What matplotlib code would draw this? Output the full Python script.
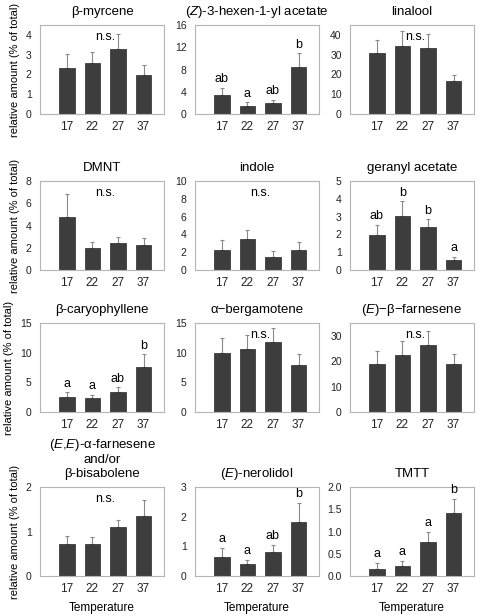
import numpy as np
import matplotlib
matplotlib.use("Agg")
import matplotlib.pyplot as plt

plt.rcParams['font.family'] = ['Liberation Sans', 'DejaVu Sans']
plt.rcParams['mathtext.fontset'] = 'custom'
plt.rcParams['mathtext.rm'] = 'Liberation Sans'
plt.rcParams['mathtext.it'] = 'Liberation Sans:italic'

temps = ["17", "22", "27", "37"]

titles = ["β-myrcene", "($\\mathit{Z}$)-3-hexen-1-yl acetate", "linalool",
          "DMNT", "indole", "geranyl acetate",
          "β-caryophyllene", "α\u2212bergamotene", "($\\mathit{E}$)\u2212β\u2212farnesene",
          "($\\mathit{E}$,$\\mathit{E}$)-α-farnesene\nand/or\nβ-bisabolene",
          "($\\mathit{E}$)-nerolidol", "TMTT"]

means = [[2.35, 2.6, 3.3, 1.95],
         [3.4, 1.4, 2.0, 8.5],
         [30.7, 34.6, 33.6, 16.9],
         [4.8, 1.95, 2.4, 2.25],
         [2.25, 3.45, 1.5, 2.2],
         [1.97, 3.06, 2.4, 0.58],
         [2.45, 2.3, 3.45, 7.6],
         [10.0, 10.6, 11.8, 7.9],
         [18.8, 22.6, 26.5, 18.7],
         [0.71, 0.73, 1.1, 1.34],
         [0.63, 0.39, 0.82, 1.81],
         [0.16, 0.22, 0.77, 1.42]]

errs = [[0.7, 0.55, 0.75, 0.55],
        [1.3, 0.7, 0.6, 2.4],
        [6.7, 7.6, 6.9, 3.0],
        [2.05, 0.55, 0.55, 0.6],
        [1.1, 1.05, 0.65, 0.9],
        [0.58, 0.8, 0.44, 0.17],
        [0.85, 0.6, 0.7, 2.1],
        [2.5, 2.4, 2.35, 1.8],
        [5.2, 5.5, 5.2, 4.0],
        [0.2, 0.14, 0.16, 0.37],
        [0.32, 0.15, 0.24, 0.65],
        [0.14, 0.12, 0.22, 0.31]]

letters = [None, ["ab", "a", "ab", "b"], None,
           None, None, ["ab", "b", "b", "a"],
           ["a", "a", "ab", "b"], None, None,
           None, ["a", "a", "ab", "b"], ["a", "a", "a", "b"]]

ymax = [4.5, 15, 45, 8, 10, 5, 15, 15, 35, 2, 3, 2]
ysteps = [1, 4, 10, 2, 2, 1, 5, 5, 10, 1, 1, 0.5]

W, H = 480, 616
fig = plt.figure(figsize=(W / 100, H / 100), dpi=100)

lefts = [40, 195, 350]
tops = [25, 181, 323, 487]
aw, ah = 124, 89

x = np.arange(4)
for i in range(12):
    r, c = divmod(i, 3)
    ax = fig.add_axes([lefts[c] / W, 1 - (tops[r] + ah) / H, aw / W, ah / H])
    lower = np.zeros(4)
    ax.bar(x, means[i], width=0.6, color='#3d3d3d', edgecolor='#2a2a2a', lw=0.5, zorder=2)
    ax.errorbar(x, means[i], yerr=[lower, errs[i]], fmt='none', ecolor='#8a8a8a',
                elinewidth=0.8, capsize=1.5, capthick=0.8, zorder=1)
    ax.set_xlim(-1.05, 3.8)
    ax.set_ylim(0, ymax[i])
    step = ysteps[i]
    ticks = np.arange(0, ymax[i] + step / 2, step)
    ax.set_yticks(ticks)
    if step < 1:
        ax.set_yticklabels(["%.1f" % t for t in ticks])
    ax.set_xticks(x)
    ax.set_xticklabels(temps)
    ax.tick_params(axis='y', length=0, labelsize=7.5, pad=6, colors='#222222')
    ax.tick_params(axis='x', length=0, labelsize=8.5, pad=5, colors='#222222')
    for s in ax.spines.values():
        s.set_color('#b5b5b5')
        s.set_linewidth(0.8)
    ax.set_title(titles[i], fontsize=9.5, pad=7, linespacing=1.2)
    if letters[i] is None:
        ax.text(1.5, ymax[i] * 0.87, "n.s.", ha='center', va='center', fontsize=9)
    else:
        for j in range(4):
            ax.text(x[j], means[i][j] + errs[i][j] + ymax[i] * 0.03, letters[i][j],
                    ha='center', va='bottom', fontsize=9)
    if c == 0:
        ax.set_ylabel("relative amount (% of total)", fontsize=8, labelpad=4)
    if r == 3:
        ax.set_xlabel("Temperature", fontsize=8.5, labelpad=5)

fig.savefig("out.png", dpi=100)
